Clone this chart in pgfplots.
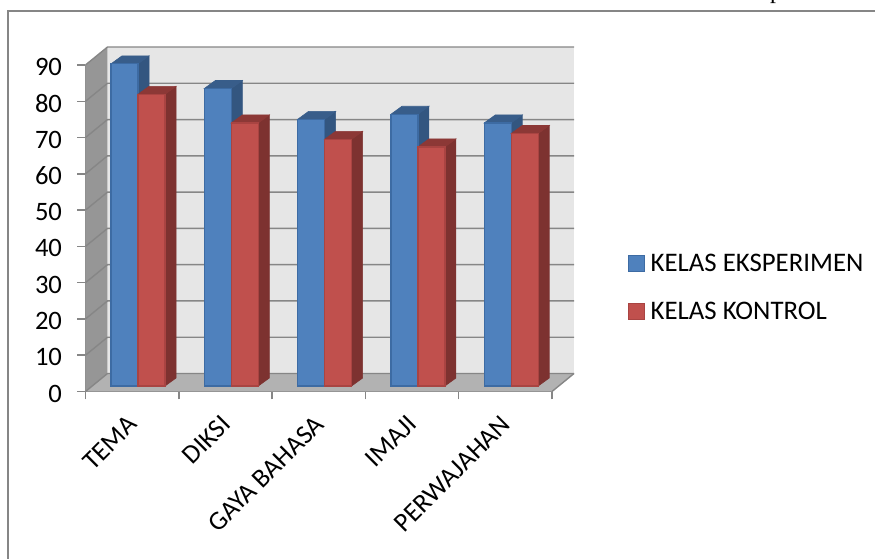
\documentclass[border=0pt]{standalone}
\usepackage{fontspec}
\setmainfont{Carlito}
\newfontfamily\bodyserif{Liberation Serif}
\usepackage{pgfplots}
\usepackage{pgfplotstable}
\pgfplotsset{compat=1.18}

\definecolor{blueFront}{HTML}{4F81BD}
\definecolor{blueEdge}{HTML}{3D6BA3}
\definecolor{blueSide}{HTML}{335680}
\definecolor{blueTop}{HTML}{385D8A}
\definecolor{redFront}{HTML}{C0504D}
\definecolor{redEdge}{HTML}{A94442}
\definecolor{redSide}{HTML}{7D3230}
\definecolor{redTop}{HTML}{8C3836}
\definecolor{wallBack}{HTML}{E6E6E6}
\definecolor{wallSide}{HTML}{969696}
\definecolor{wallFloor}{HTML}{B2B2B2}
\definecolor{axisGray}{HTML}{868686}

% Scores per aspect: experiment class and control class
\pgfplotstableread{
cat eks kon
0   88.8 80.4
1   82.0 72.5
2   73.5 68.0
3   74.9 65.9
4   72.5 69.6
}\scores

% Depth of the chart box and of a single column, in axis units
\def\wallDx{0.2358}
\def\wallDy{4.96}
\def\barDx{0.118}
\def\barDy{2.2}
\def\barBase{1.516}
\def\barW{0.2894}
\def\barStart{0.2733}

% One column with its side, top and front faces: #1 category, #2 slot, #3 value, #4 colour prefix
\newcommand\columnfaces[4]{%
  \pgfmathsetmacro\xl{#1+\barStart+#2*\barW}%
  \pgfmathsetmacro\xr{\xl+\barW}%
  \pgfmathsetmacro\xrb{\xr+\barDx}%
  \pgfmathsetmacro\xlb{\xl+\barDx}%
  \pgfmathsetmacro\yb{\barBase}%
  \pgfmathsetmacro\yt{\barBase+#3}%
  \pgfmathsetmacro\ybb{\yb+\barDy}%
  \pgfmathsetmacro\ytb{\yt+\barDy}%
  \addplot[forget plot, fill=#4Side, draw=#4Side, line width=0.6pt]
    coordinates {(\xr,\yb) (\xrb,\ybb) (\xrb,\ytb) (\xr,\yt)} --cycle;
  \addplot[forget plot, fill=#4Top, draw=#4Top, line width=0.6pt]
    coordinates {(\xl,\yt) (\xr,\yt) (\xrb,\ytb) (\xlb,\ytb)} --cycle;
  \addplot[forget plot, fill=#4Front, draw=#4Edge, line width=1.3pt]
    coordinates {(\xl,\yb) (\xr,\yb) (\xr,\yt) (\xl,\yt)} --cycle;
}

\begin{document}
\begin{tikzpicture}
\path[use as bounding box, clip] (0pt,0pt) rectangle (875pt,559pt);

% Surrounding page furniture
\draw[axisGray, line width=1.6pt] (8pt,-5pt) -- (8pt,548pt) -- (885pt,548pt);
\node[anchor=base west, inner sep=0pt, font=\bodyserif\fontsize{24}{28}\selectfont]
  at (770pt,560pt) {p};

\begin{axis}[
  at={(85.5pt,167.5pt)}, anchor=south west,
  scale only axis, width=466.5pt, height=326.5pt,
  xmin=0, xmax=5, ymin=0, ymax=90,
  clip=false,
  axis x line*=bottom, axis y line*=left,
  axis line style={axisGray, line width=1.5pt},
  ytick={0,10,...,90},
  xtick={0.5,1.5,2.5,3.5,4.5},
  xticklabels={TEMA,DIKSI,GAYA BAHASA,IMAJI,PERWAJAHAN},
  minor xtick={0,1,2,3,4,5},
  major tick length=8pt,
  minor tick length=8pt,
  tick align=outside,
  tick style={axisGray, line width=1.5pt},
  major x tick style={draw=none},
  tick label style={font=\fontsize{26.6}{30}\selectfont},
  /pgf/number format/assume math mode=true,
  yticklabel style={xshift=-12pt, yshift=-2pt},
  % shifts act along the rotated label
  xticklabel style={rotate=45, anchor=north east, xshift=-10.6pt, yshift=-2.8pt},
  legend style={
    at={(axis cs:5.81,38.5)}, anchor=north west, draw=none, fill=none,
    font=\fontsize{26.8}{30}\selectfont,
    row sep=25pt, inner sep=0pt,
    cells={anchor=west},
  },
  legend cell align=left,
]
  % Walls and floor of the chart box
  \addplot[forget plot, fill=wallBack, draw=none]
    coordinates {(\wallDx,\wallDy) (5+\wallDx,\wallDy) (5+\wallDx,90+\wallDy) (\wallDx,90+\wallDy)} --cycle;
  \addplot[forget plot, fill=wallSide, draw=none]
    coordinates {(0,0) (\wallDx,\wallDy) (\wallDx,90+\wallDy) (0,90)} --cycle;
  \addplot[forget plot, fill=wallFloor, draw=none]
    coordinates {(0,0) (5,0) (5+\wallDx,\wallDy) (\wallDx,\wallDy)} --cycle;

  % Gridlines running along the side wall and the back wall
  \pgfplotsinvokeforeach{0,10,...,90}{
    \addplot[forget plot, axisGray, line width=1.4pt]
      coordinates {(0,#1) (\wallDx,#1+\wallDy) (5+\wallDx,#1+\wallDy)};
  }
  \addplot[forget plot, axisGray, line width=1.4pt]
    coordinates {(5,0) (5+\wallDx,\wallDy)};

  % Columns, category by category
  \pgfplotsinvokeforeach{0,1,2,3,4}{
    \pgfplotstablegetelem{#1}{eks}\of\scores
    \let\valE\pgfplotsretval
    \columnfaces{#1}{0}{\valE}{blue}
    \pgfplotstablegetelem{#1}{kon}\of\scores
    \let\valK\pgfplotsretval
    \columnfaces{#1}{1}{\valK}{red}
  }

  % Legend swatches, with a little room kept before the text
  \addlegendimage{legend image code/.code={
    \draw[fill=blueFront, draw=blueEdge, line width=1.3pt] (0pt,-8pt) rectangle (16pt,8pt);
    \path (20pt,0pt);}}
  \addlegendentry{KELAS EKSPERIMEN}
  \addlegendimage{legend image code/.code={
    \draw[fill=redFront, draw=redEdge, line width=1.3pt] (0pt,-8pt) rectangle (16pt,8pt);
    \path (20pt,0pt);}}
  \addlegendentry{KELAS KONTROL}
\end{axis}
\end{tikzpicture}
\end{document}
